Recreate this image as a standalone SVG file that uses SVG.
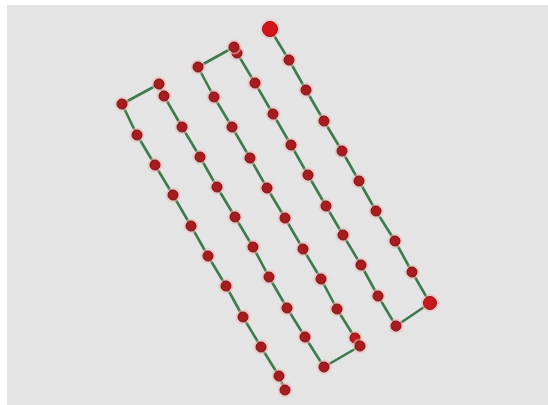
<svg xmlns="http://www.w3.org/2000/svg" width="548" height="405" viewBox="0 0 548 405">
<defs>
<style>
.bg{fill:#e4e4e4}
.path{fill:none;stroke:#3f7a4c;stroke-width:2.6;stroke-linejoin:round}
.halo{fill:#f0b4b4;opacity:0.55}
.dot{fill:#a81c1f;stroke:#7c1214;stroke-width:1}
.big{fill:#d4141a;stroke:#9e1014;stroke-width:1}
</style>
</defs>
<rect width="548" height="405" fill="#ffffff"/>
<rect class="bg" x="7" y="5" width="541" height="400"/>
<g id="connectors">
<polyline class="path" points="270,29 289,60 306,90 324,121 342,151 359,181 376,211 395,241 412,272 430,303 396,326 378,296 361,265 343,235 326,206 308,175 291,145 273,114 255,83 237,53 234,47 198,67 214,97 232,127 250,158 267,188 285,218 303,249 321,279 337,309 355,338 360,346 324,367 305,337 287,308 269,277 253,247 235,217 217,187 200,157 182,127 164,96 159,84 122,104 137,135 155,165 173,195 191,226 208,256 226,286 243,317 261,347 279,376 285,390"/>
</g>
<g id="n1"><circle class="halo" cx="270" cy="29" r="10"/><circle class="big" cx="270" cy="29" r="7.5"/></g>
<g id="n2"><circle class="halo" cx="289" cy="60" r="7.5"/><circle class="dot" cx="289" cy="60" r="5"/></g>
<g id="n3"><circle class="halo" cx="306" cy="90" r="7.5"/><circle class="dot" cx="306" cy="90" r="5"/></g>
<g id="n4"><circle class="halo" cx="324" cy="121" r="7.5"/><circle class="dot" cx="324" cy="121" r="5"/></g>
<g id="n5"><circle class="halo" cx="342" cy="151" r="7.5"/><circle class="dot" cx="342" cy="151" r="5"/></g>
<g id="n6"><circle class="halo" cx="359" cy="181" r="7.5"/><circle class="dot" cx="359" cy="181" r="5"/></g>
<g id="n7"><circle class="halo" cx="376" cy="211" r="7.5"/><circle class="dot" cx="376" cy="211" r="5"/></g>
<g id="n8"><circle class="halo" cx="395" cy="241" r="7.5"/><circle class="dot" cx="395" cy="241" r="5"/></g>
<g id="n9"><circle class="halo" cx="412" cy="272" r="7.5"/><circle class="dot" cx="412" cy="272" r="5"/></g>
<g id="n10"><circle class="halo" cx="430" cy="303" r="9"/><circle class="big" cx="430" cy="303" r="6.5" style="fill:#c41a1e"/></g>
<g id="n11"><circle class="halo" cx="396" cy="326" r="7.5"/><circle class="dot" cx="396" cy="326" r="5"/></g>
<g id="n12"><circle class="halo" cx="378" cy="296" r="7.5"/><circle class="dot" cx="378" cy="296" r="5"/></g>
<g id="n13"><circle class="halo" cx="361" cy="265" r="7.5"/><circle class="dot" cx="361" cy="265" r="5"/></g>
<g id="n14"><circle class="halo" cx="343" cy="235" r="7.5"/><circle class="dot" cx="343" cy="235" r="5"/></g>
<g id="n15"><circle class="halo" cx="326" cy="206" r="7.5"/><circle class="dot" cx="326" cy="206" r="5"/></g>
<g id="n16"><circle class="halo" cx="308" cy="175" r="7.5"/><circle class="dot" cx="308" cy="175" r="5"/></g>
<g id="n17"><circle class="halo" cx="291" cy="145" r="7.5"/><circle class="dot" cx="291" cy="145" r="5"/></g>
<g id="n18"><circle class="halo" cx="273" cy="114" r="7.5"/><circle class="dot" cx="273" cy="114" r="5"/></g>
<g id="n19"><circle class="halo" cx="255" cy="83" r="7.5"/><circle class="dot" cx="255" cy="83" r="5"/></g>
<g id="n20"><circle class="halo" cx="237" cy="53" r="7.5"/><circle class="dot" cx="237" cy="53" r="5"/></g>
<g id="n21"><circle class="halo" cx="234" cy="47" r="7.5"/><circle class="dot" cx="234" cy="47" r="5"/></g>
<g id="n22"><circle class="halo" cx="198" cy="67" r="7.5"/><circle class="dot" cx="198" cy="67" r="5"/></g>
<g id="n23"><circle class="halo" cx="214" cy="97" r="7.5"/><circle class="dot" cx="214" cy="97" r="5"/></g>
<g id="n24"><circle class="halo" cx="232" cy="127" r="7.5"/><circle class="dot" cx="232" cy="127" r="5"/></g>
<g id="n25"><circle class="halo" cx="250" cy="158" r="7.5"/><circle class="dot" cx="250" cy="158" r="5"/></g>
<g id="n26"><circle class="halo" cx="267" cy="188" r="7.5"/><circle class="dot" cx="267" cy="188" r="5"/></g>
<g id="n27"><circle class="halo" cx="285" cy="218" r="7.5"/><circle class="dot" cx="285" cy="218" r="5"/></g>
<g id="n28"><circle class="halo" cx="303" cy="249" r="7.5"/><circle class="dot" cx="303" cy="249" r="5"/></g>
<g id="n29"><circle class="halo" cx="321" cy="279" r="7.5"/><circle class="dot" cx="321" cy="279" r="5"/></g>
<g id="n30"><circle class="halo" cx="337" cy="309" r="7.5"/><circle class="dot" cx="337" cy="309" r="5"/></g>
<g id="n31"><circle class="halo" cx="355" cy="338" r="7.5"/><circle class="dot" cx="355" cy="338" r="5" style="fill:#c01a1e"/></g>
<g id="n32"><circle class="halo" cx="360" cy="346" r="7.5"/><circle class="dot" cx="360" cy="346" r="5"/></g>
<g id="n33"><circle class="halo" cx="324" cy="367" r="7.5"/><circle class="dot" cx="324" cy="367" r="5"/></g>
<g id="n34"><circle class="halo" cx="305" cy="337" r="7.5"/><circle class="dot" cx="305" cy="337" r="5"/></g>
<g id="n35"><circle class="halo" cx="287" cy="308" r="7.5"/><circle class="dot" cx="287" cy="308" r="5"/></g>
<g id="n36"><circle class="halo" cx="269" cy="277" r="7.5"/><circle class="dot" cx="269" cy="277" r="5"/></g>
<g id="n37"><circle class="halo" cx="253" cy="247" r="7.5"/><circle class="dot" cx="253" cy="247" r="5"/></g>
<g id="n38"><circle class="halo" cx="235" cy="217" r="7.5"/><circle class="dot" cx="235" cy="217" r="5"/></g>
<g id="n39"><circle class="halo" cx="217" cy="187" r="7.5"/><circle class="dot" cx="217" cy="187" r="5"/></g>
<g id="n40"><circle class="halo" cx="200" cy="157" r="7.5"/><circle class="dot" cx="200" cy="157" r="5"/></g>
<g id="n41"><circle class="halo" cx="182" cy="127" r="7.5"/><circle class="dot" cx="182" cy="127" r="5"/></g>
<g id="n42"><circle class="halo" cx="164" cy="96" r="7.5"/><circle class="dot" cx="164" cy="96" r="5"/></g>
<g id="n43"><circle class="halo" cx="159" cy="84" r="7.5"/><circle class="dot" cx="159" cy="84" r="5"/></g>
<g id="n44"><circle class="halo" cx="122" cy="104" r="7.5"/><circle class="dot" cx="122" cy="104" r="5"/></g>
<g id="n45"><circle class="halo" cx="137" cy="135" r="7.5"/><circle class="dot" cx="137" cy="135" r="5"/></g>
<g id="n46"><circle class="halo" cx="155" cy="165" r="7.5"/><circle class="dot" cx="155" cy="165" r="5"/></g>
<g id="n47"><circle class="halo" cx="173" cy="195" r="7.5"/><circle class="dot" cx="173" cy="195" r="5"/></g>
<g id="n48"><circle class="halo" cx="191" cy="226" r="7.5"/><circle class="dot" cx="191" cy="226" r="5"/></g>
<g id="n49"><circle class="halo" cx="208" cy="256" r="7.5"/><circle class="dot" cx="208" cy="256" r="5"/></g>
<g id="n50"><circle class="halo" cx="226" cy="286" r="7.5"/><circle class="dot" cx="226" cy="286" r="5"/></g>
<g id="n51"><circle class="halo" cx="243" cy="317" r="7.5"/><circle class="dot" cx="243" cy="317" r="5"/></g>
<g id="n52"><circle class="halo" cx="261" cy="347" r="7.5"/><circle class="dot" cx="261" cy="347" r="5"/></g>
<g id="n53"><circle class="halo" cx="279" cy="376" r="7.5"/><circle class="dot" cx="279" cy="376" r="5"/></g>
<g id="n54"><circle class="halo" cx="285" cy="390" r="7.5"/><circle class="dot" cx="285" cy="390" r="5"/></g>
</svg>
